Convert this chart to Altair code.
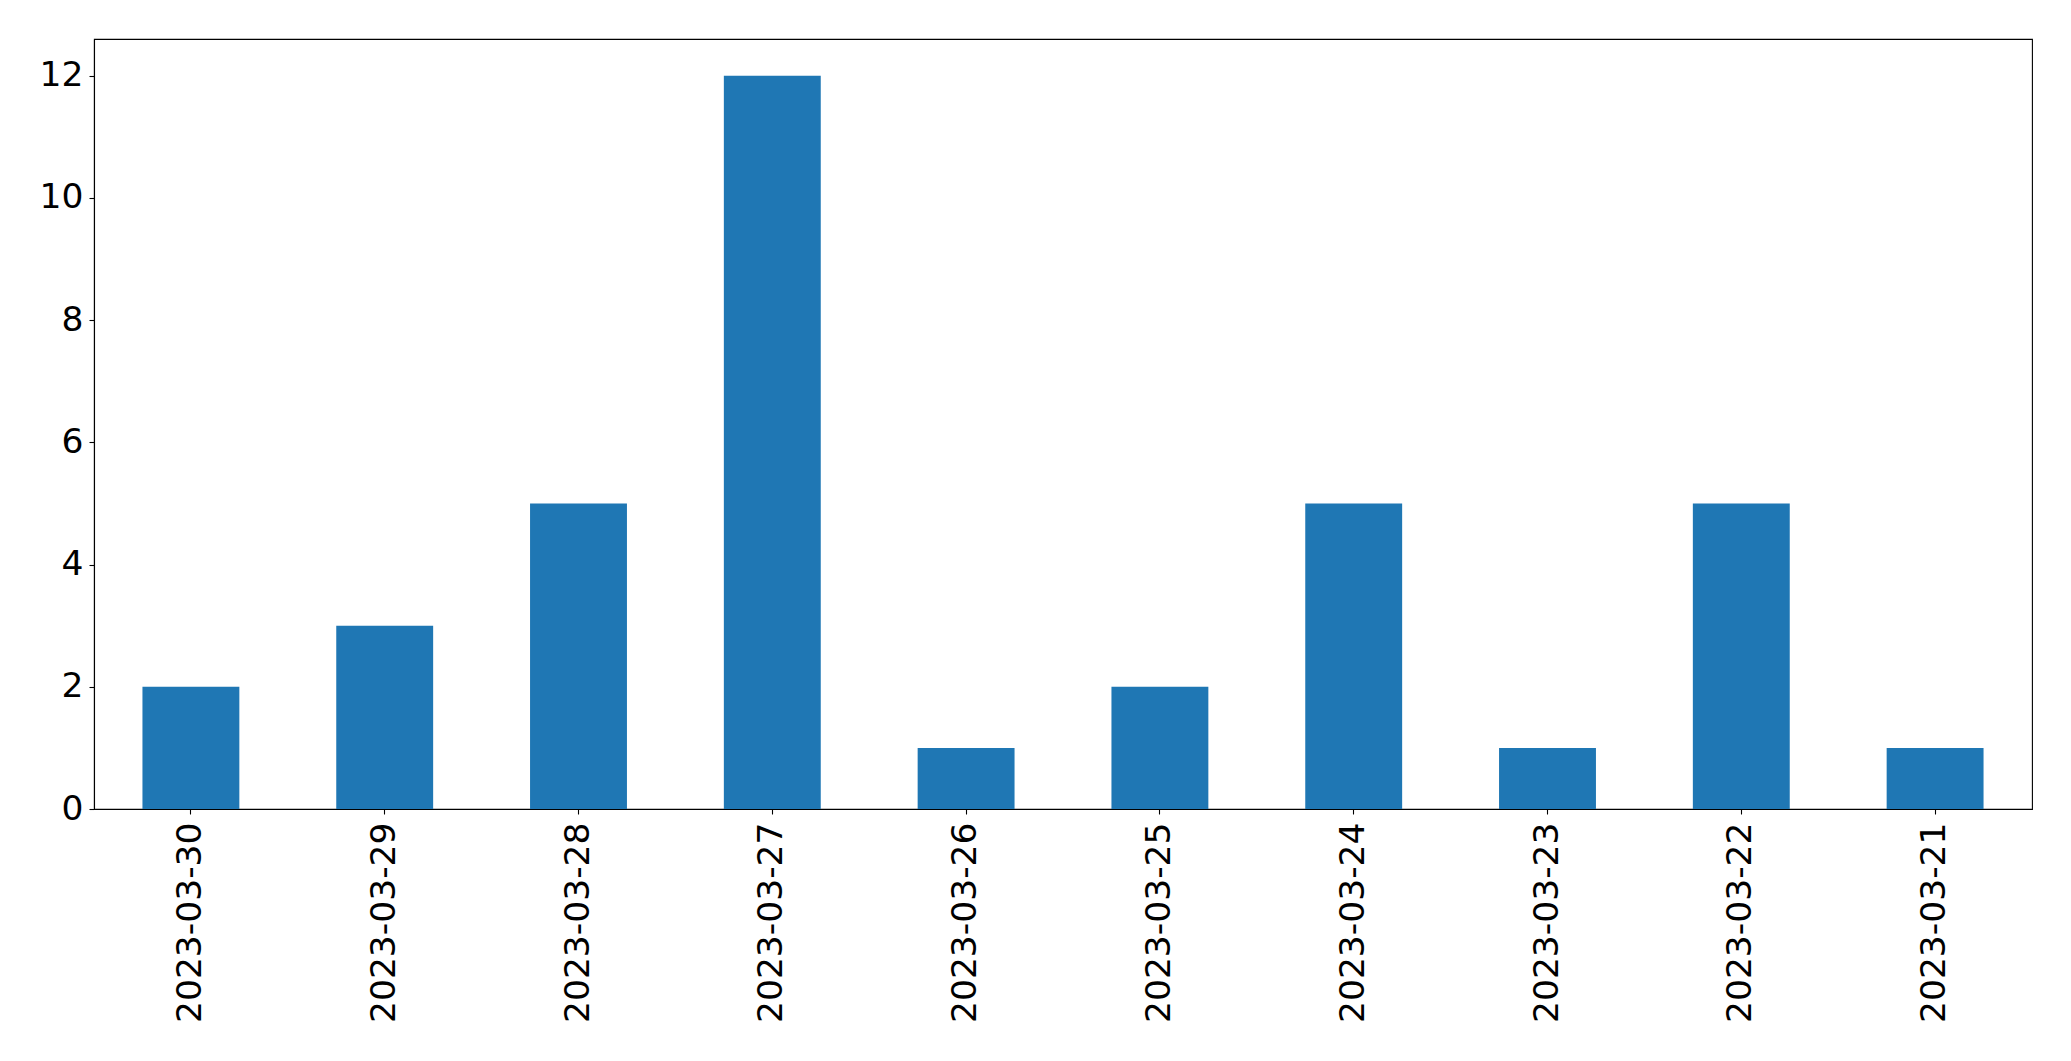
import altair as alt
import pandas as pd

dates = ["2023-03-30", "2023-03-29", "2023-03-28", "2023-03-27", "2023-03-26",
         "2023-03-25", "2023-03-24", "2023-03-23", "2023-03-22", "2023-03-21"]
counts = [2, 3, 5, 12, 1, 2, 5, 1, 5, 1]
y_ticks = [0, 2, 4, 6, 8, 10, 12]

df = pd.DataFrame({"date": dates, "count": counts})

chart = alt.Chart(df).mark_bar(color="#1f77b4").encode(
    x=alt.X("date:N", sort=None, title=None,
            scale=alt.Scale(paddingInner=0.5, paddingOuter=0.25),
            axis=alt.Axis(labelAngle=-90, labelFontSize=34.5, labelPadding=8,
                          labelLimit=1000,
                          tickSize=5, tickColor="black", tickWidth=1.1,
                          domainColor="black", domainWidth=1.1,
                          labelColor="black", labelFont="DejaVu Sans")),
    y=alt.Y("count:Q", title=None,
            scale=alt.Scale(domain=[0, 12.6], nice=False, zero=True),
            axis=alt.Axis(values=y_ticks, labelFontSize=34.5, labelPadding=6,
                          tickSize=5, tickColor="black", tickWidth=1.1,
                          domainColor="black", domainWidth=1.1, grid=False,
                          labelColor="black", labelFont="DejaVu Sans",
                          labelFlush=False)),
).properties(
    width=1938, height=770,
    autosize=alt.AutoSizeParams(type="none"),
    padding={"left": 86, "top": 31, "right": 30, "bottom": 240},
).configure_view(stroke="black", strokeWidth=1.1)

chart.save("out.html", embed_options={"renderer": "svg", "actions": False})
